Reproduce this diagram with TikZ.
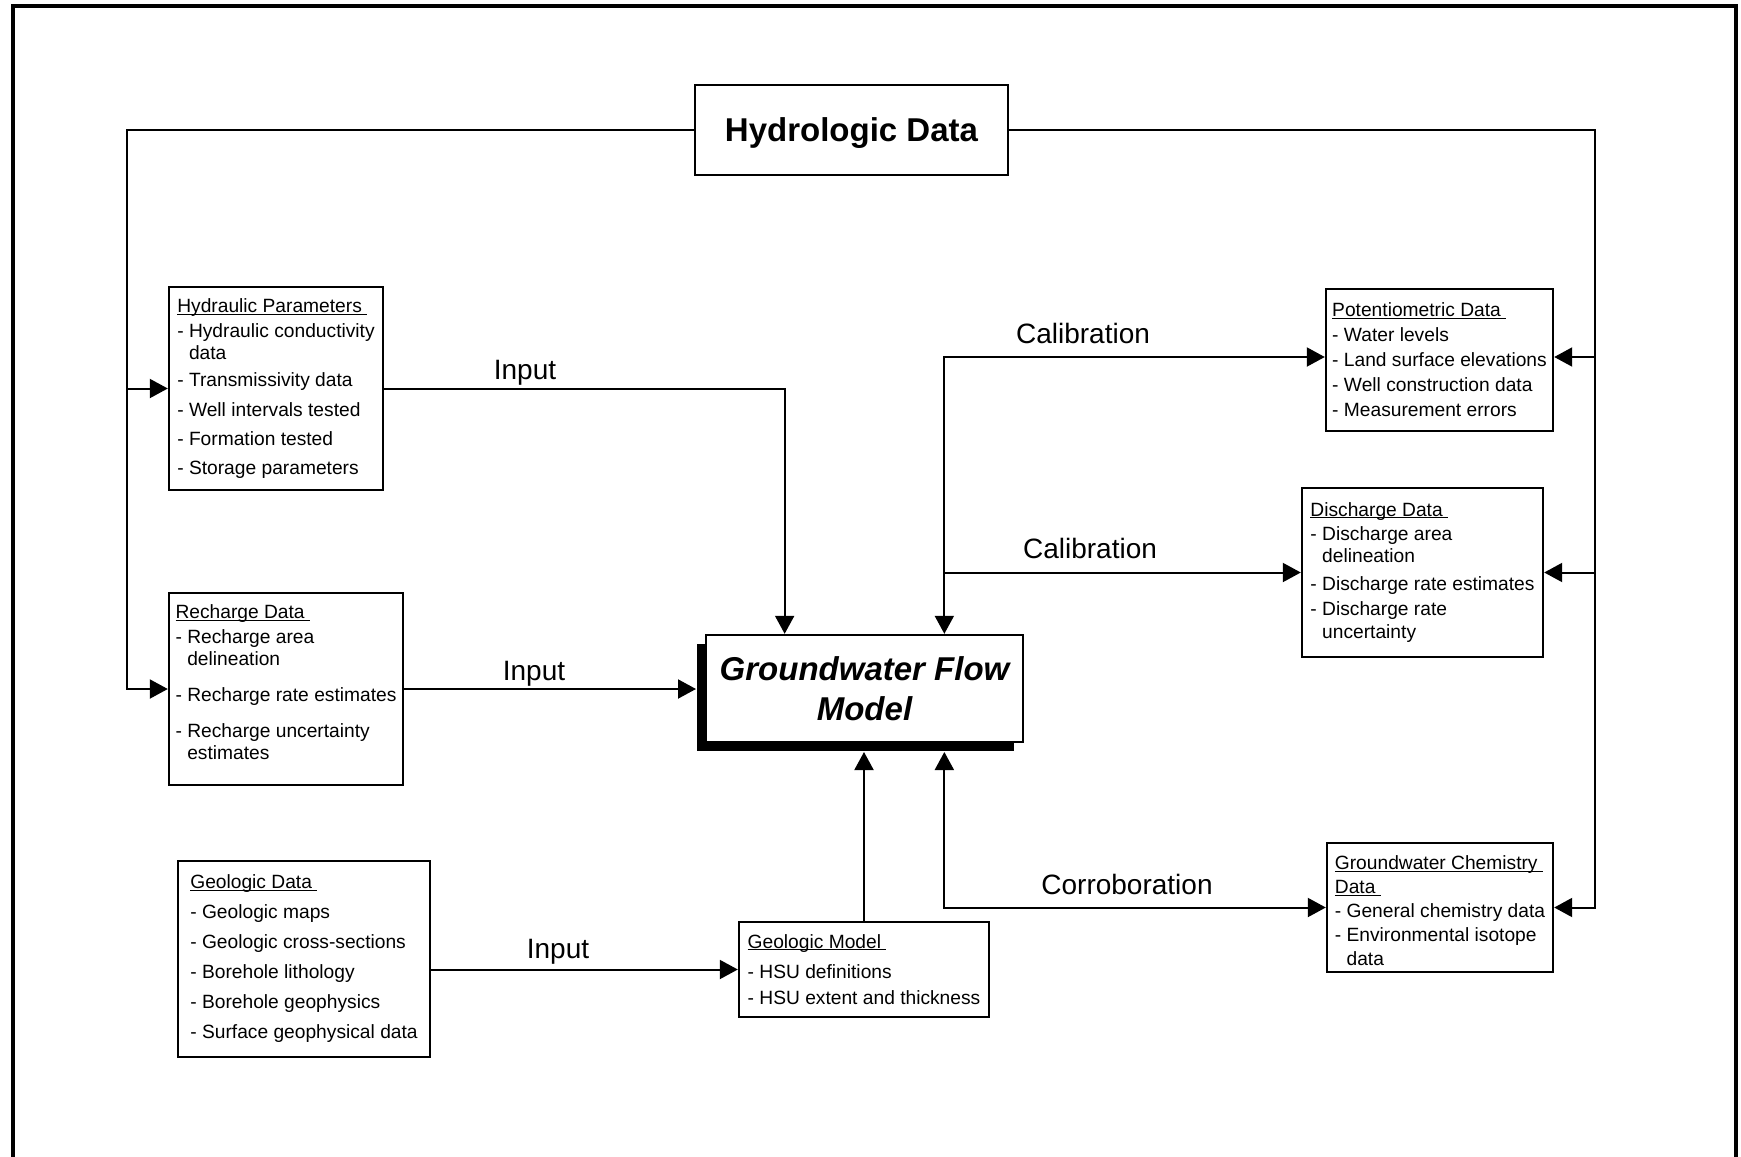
\documentclass[tikz,border=0pt]{standalone}
\usepackage{fontspec}
\setmainfont{Liberation Sans}
\usetikzlibrary{calc,arrows.meta}
\newsavebox{\headbox}
\newcommand{\boxhead}[1]{\sbox{\headbox}{#1}\rlap{\rule[-1pt]{\wd\headbox}{0.5pt}}\usebox{\headbox}}
\newcommand{\wrapind}{\phantom{- }}
\tikzset{
  databox/.style={draw, line width=1.2pt, align=left, inner sep=2pt, font=\fontsize{9.6}{11}\selectfont},
  bigbox/.style={draw, line width=1.2pt, align=center, inner sep=2pt, font=\fontsize{16.5}{20}\selectfont\bfseries},
  flowlabel/.style={anchor=base, inner sep=0pt, font=\fontsize{14}{16}\selectfont},
  >={Triangle[length=9pt,width=9.5pt]}
}

\begin{document}
\begin{tikzpicture}[x=0.5pt,y=-0.5pt,line width=1pt]
\useasboundingbox (0,0) rectangle (1741,1157);
\draw[line width=1.6pt] (13,1157) -- (13,6) -- (1736,6) -- (1736,1157);

\node[bigbox, text depth=0pt, minimum width=156.5pt, minimum height=45pt] (hydro) at (851.5,130) {Hydrologic Data};

\node[databox, minimum width=107pt, minimum height=101.5pt] (hydraulic) at (276,388.5)
{\boxhead{Hydraulic Parameters\ }\\[1.5pt]
- Hydraulic conductivity\\
\wrapind data\\[2.3pt]
- Transmissivity data\\[4pt]
- Well intervals tested\\[3.6pt]
- Formation tested\\[3.5pt]
- Storage parameters};
\node[databox, minimum width=117pt, minimum height=96pt] (recharge) at (286,689)
{\boxhead{Recharge Data\ }\\[1.5pt]
- Recharge area\\
\wrapind delineation\\[7pt]
- Recharge rate estimates\\[7pt]
- Recharge uncertainty\\
\wrapind estimates\\[-4.4pt]\mbox{}};
\node[databox, minimum width=126pt, minimum height=98pt] (geodata) at (304,959)
{\boxhead{Geologic Data\ }\\[4pt]
- Geologic maps\\[4pt]
- Geologic cross-sections\\[4pt]
- Borehole lithology\\[4pt]
- Borehole geophysics\\[4pt]
- Surface geophysical data};
\node[databox, minimum width=125pt, minimum height=47.5pt] (geomodel) at (864,969.5)
{\boxhead{Geologic Model\ }\\[4pt]
- HSU definitions\\[2pt]
- HSU extent and thickness};

\node[fill=black, inner sep=0pt, minimum width=158.5pt, minimum height=53.5pt] (gfmshadow) at (855.5,697.5) {};
\node[bigbox, fill=white, font=\fontsize{16.5}{20}\selectfont\bfseries\itshape,
  minimum width=158.5pt, minimum height=53.5pt] (gfm) at (864.5,688.5) {Groundwater Flow\\Model};

\node[databox, minimum width=113.5pt, minimum height=71pt] (potent) at (1439.5,360)
{\boxhead{Potentiometric Data\ }\\[1.5pt]
- Water levels\\[1.5pt]
- Land surface elevations\\[1.5pt]
- Well construction data\\[1.5pt]
- Measurement errors};
\node[databox, minimum width=120.5pt, minimum height=84.5pt] (discharge) at (1422.5,572.5)
{\boxhead{Discharge Data\ }\\[1pt]
- Discharge area\\
\wrapind delineation\\[3pt]
- Discharge rate estimates\\[1.5pt]
- Discharge rate\\[0.5pt]
\wrapind uncertainty};
\node[databox, minimum width=113pt, minimum height=64.5pt] (chem) at (1440,907.5)
{\rule{0pt}{10.3pt}\boxhead{Groundwater Chemistry\ }\\[1pt]
\boxhead{Data\ }\\[1pt]
- General chemistry data\\[1pt]
- Environmental isotope\\[1pt]
\wrapind data};

\coordinate (lbus) at (127,0);
\coordinate (rbus) at (1595,0);
\coordinate (gfmin) at ($(gfm.north west)!0.25!(gfm.north east)$);
\coordinate (gfmcal) at ($(gfm.north west)!0.75!(gfm.north east)$);
\coordinate (potin) at ([yshift=1.5pt]potent.west);
\coordinate (potback) at ([yshift=1.5pt]potent.east);

\draw[->] (hydro.west) -| (lbus |- recharge.west) -- (recharge.west);
\draw[->] (lbus |- hydraulic.west) -- (hydraulic.west);
\draw[->] (hydro.east) -| (rbus |- chem.east) -- (chem.east);
\draw[->] (rbus |- potback) -- (potback);
\draw[->] (rbus |- discharge.east) -- (discharge.east);

\draw[->] (hydraulic.east) -| (gfmin);
\draw[->] (recharge.east) -- (recharge.east -| gfmshadow.west);
\draw[->] (geodata.east |- geomodel.west) -- (geomodel.west);
\draw[->] (geomodel.north) -- (geomodel.north |- gfmshadow.south);
\draw[<->] (gfmcal) |- (potin);
\draw[->] (gfmcal |- discharge.west) -- (discharge.west);
\draw[<->] (gfmcal |- gfmshadow.south) |- (chem.west);

\node[flowlabel] (inhyd) at (525,379) {Input};
\node[flowlabel] (inrech) at (534,680) {Input};
\node[flowlabel] (ingeo) at (558,958) {Input};
\node[flowlabel] (calpot) at (1083,343) {Calibration};
\node[flowlabel] (caldis) at (1090,558) {Calibration};
\node[flowlabel] (corrob) at (1127,894) {Corroboration};
\end{tikzpicture}
\end{document}
